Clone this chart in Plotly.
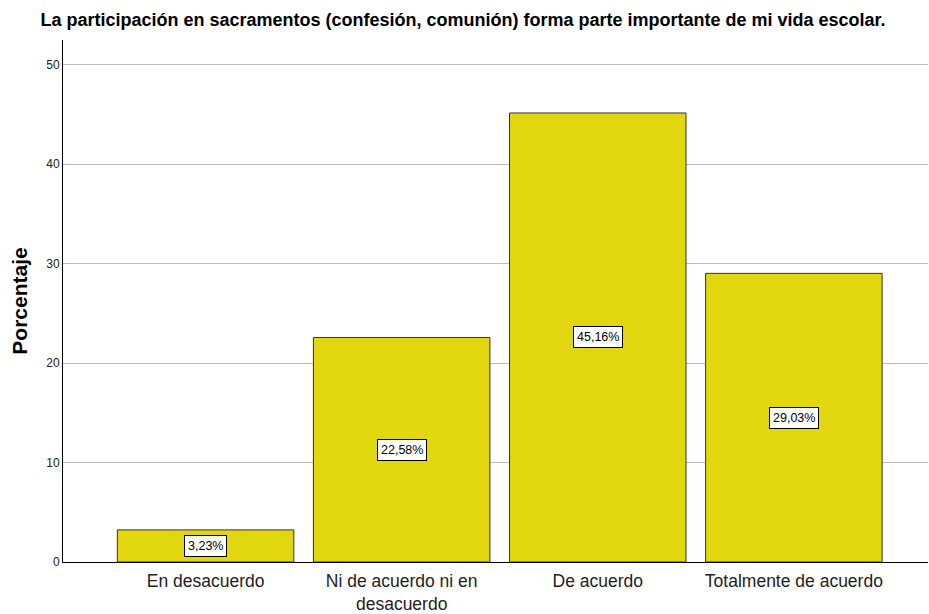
import plotly.graph_objects as go

categories = ["En desacuerdo", "Ni de acuerdo ni en<br>desacuerdo", "De acuerdo", "Totalmente de acuerdo"]
percentages = [3.23, 22.58, 45.16, 29.03]
y_ticks = [0, 10, 20, 30, 40, 50]

title_text = "La participación en sacramentos (confesión, comunión) forma parte importante de mi vida escolar."
FONT = "Liberation Sans Narrow, Arial Narrow, Liberation Sans, Arial, sans-serif"

fig = go.Figure()
fig.add_trace(go.Bar(
    x=categories,
    y=percentages,
    width=0.9,
    marker=dict(color="#E2D70E", line=dict(color="#333333", width=1)),
    hoverinfo="skip",
))

for c, v in zip(categories, percentages):
    fig.add_annotation(
        x=c, y=v / 2, xref="x", yref="y",
        text=f"{v:.2f}%".replace(".", ","),
        showarrow=False,
        font=dict(family=FONT, size=12.5, color="#000000"),
        bgcolor="#FFFFFF",
        bordercolor="#000000",
        borderwidth=1,
        borderpad=3,
    )

fig.update_layout(
    width=929, height=614,
    margin=dict(l=63, r=1, t=40, b=52),
    paper_bgcolor="#FFFFFF",
    plot_bgcolor="#FFFFFF",
    showlegend=False,
    title=dict(
        text=f"<b>{title_text}</b>",
        x=463 / 929, xanchor="center",
        y=1 - 20 / 614, yanchor="middle",
        font=dict(family=FONT, size=18, color="#000000"),
    ),
    xaxis=dict(
        range=[-0.727, 3.684],
        automargin=False,
        showline=True, linecolor="#000000", linewidth=1,
        showgrid=False, ticks="",
        ticklabelstandoff=3,
        tickfont=dict(family=FONT, size=17.5, color="#222222"),
    ),
    yaxis=dict(
        range=[0, 52.5],
        automargin=False,
        tickvals=y_ticks,
        showline=True, linecolor="#000000", linewidth=1,
        showgrid=True, gridcolor="#BDBDBD", gridwidth=1,
        zeroline=False,
        ticks="", ticklen=0,
        tickfont=dict(family=FONT, size=12, color="#222222"),
        title=dict(text="<b>Porcentaje</b>", font=dict(family="Liberation Sans, Arial, sans-serif", size=21, color="#000000"), standoff=12),
    ),
)

fig.write_html("out.html", config={"displayModeBar": False},
               post_script="document.body.style.margin='0';")
